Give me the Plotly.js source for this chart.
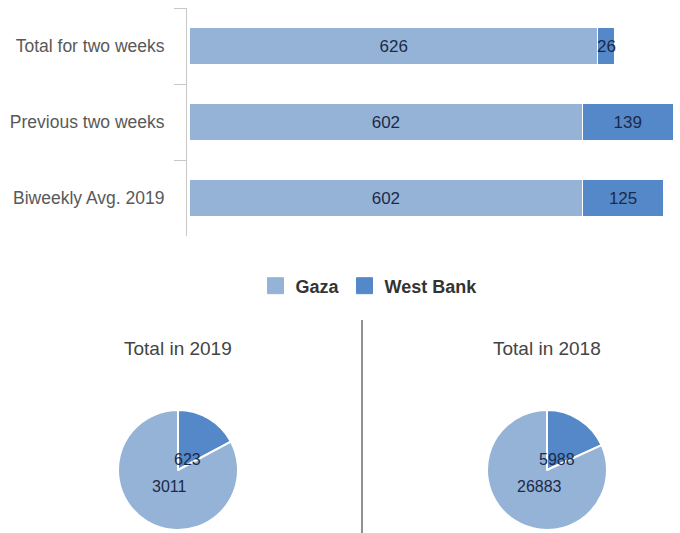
<!DOCTYPE html>
<html><head><meta charset="utf-8">
<script src="https://cdn.plot.ly/plotly-3.0.1.min.js"></script>
<style>html,body{margin:0;padding:0;background:#fff}#chart{width:680px;height:533px}</style>
</head><body><div id="chart"></div>
<script>
// ---- data ----
const categories = ["Total for two weeks", "Previous two weeks", "Biweekly Avg. 2019"];
const seriesNames = ["Gaza", "West Bank"];
const gazaValues = [626, 602, 602];
const westBankValues = [26, 139, 125];
const pieTitles = ["Total in 2019", "Total in 2018"];
const pieLabels = ["West Bank", "Gaza"];
const pie2019Values = [623, 3011];
const pie2018Values = [5988, 26883];

// ---- styles ----
const W = 680, H = 533;
const FONT = "Liberation Sans, Arial, sans-serif";
const C_GAZA = "#95b3d7", C_WB = "#5588c9";
const TXT_DARK = "#1c2a48";
const px = v => v / W, py = v => 1 - v / H;

const barCommon = {
  type: "bar", orientation: "h", y: categories,
  textposition: "inside", insidetextanchor: "middle", textangle: 0,
  constraintext: "none", cliponaxis: false,
  insidetextfont: {family: FONT, size: 17, color: TXT_DARK},
  showlegend: false, hoverinfo: "x+name"
};
const traces = [
  Object.assign({}, barCommon, {name: seriesNames[0], x: gazaValues, text: gazaValues.map(String),
    marker: {color: C_GAZA, line: {color: "#ffffff", width: 1}}}),
  Object.assign({}, barCommon, {name: seriesNames[1], x: westBankValues, text: westBankValues.map(String),
    marker: {color: C_WB, line: {color: "#ffffff", width: 1}}}),
  // legend entries
  {type: "scatter", mode: "markers", x: [null], y: [null], name: seriesNames[0],
    marker: {symbol: "square", size: 16, color: C_GAZA, line: {width: 1, color: C_GAZA}}},
  {type: "scatter", mode: "markers", x: [null], y: [null], name: seriesNames[1],
    marker: {symbol: "square", size: 16, color: C_WB, line: {width: 1, color: C_WB}}}
];

const pieDomains = [
  {x: [px(118), px(238)], y: [py(530), py(410)]},
  {x: [px(487), px(607)], y: [py(530), py(410)]}
];
[pie2019Values, pie2018Values].forEach((vals, i) => {
  traces.push({
    type: "pie", values: vals, labels: pieLabels, sort: false, direction: "clockwise", rotation: 0,
    domain: pieDomains[i], textinfo: "none", showlegend: false,
    marker: {colors: [C_WB, C_GAZA], line: {color: "#ffffff", width: 2}}
  });
});

const annotations = [];
const labelShifts = [[10, 11], [-8, -16]];
[pie2019Values, pie2018Values].forEach((vals, i) => {
  const d = pieDomains[i];
  const cx = (d.x[0] + d.x[1]) / 2, cy = (d.y[0] + d.y[1]) / 2;
  vals.forEach((v, j) => {
    annotations.push({xref: "paper", yref: "paper", x: cx, y: cy, xanchor: "center", yanchor: "middle",
      xshift: labelShifts[j][0], yshift: labelShifts[j][1], showarrow: false, text: String(v),
      font: {family: FONT, size: 16, color: TXT_DARK}});
  });
  annotations.push({xref: "paper", yref: "paper", x: cx, y: py(348), xanchor: "center", yanchor: "middle",
    showarrow: false, text: pieTitles[i], font: {family: FONT, size: 19, color: "#444444"}});
});

const layout = {
  width: W, height: H, margin: {l: 0, r: 0, t: 0, b: 0},
  paper_bgcolor: "#ffffff", plot_bgcolor: "#ffffff",
  barmode: "stack", bargap: 0.526,
  font: {family: FONT},
  xaxis: {domain: [px(187), 1], range: [-3.8, 751.7], visible: false, fixedrange: true},
  yaxis: {domain: [py(236), py(8)], autorange: "reversed", type: "category",
    showline: true, linecolor: "#c8c8c8", linewidth: 1,
    ticks: "outside", tickson: "boundaries", ticklen: 12, tickcolor: "#c8c8c8", tickwidth: 1,
    ticklabelstandoff: 18,
    showgrid: false, zeroline: false, fixedrange: true,
    tickfont: {family: FONT, size: 17.5, color: "#595959"}},
  legend: {orientation: "h", traceorder: "normal", x: px(369), xanchor: "center", y: py(286), yanchor: "middle",
    font: {family: FONT, size: 18, color: "#333333", weight: 700}, itemclick: false},
  shapes: [{type: "line", xref: "paper", yref: "paper", x0: px(362), x1: px(362), y0: 0, y1: py(320),
    line: {color: "#222222", width: 1}}],
  annotations: annotations
};

Plotly.newPlot("chart", traces, layout, {displayModeBar: false, staticPlot: true});
</script></body></html>
